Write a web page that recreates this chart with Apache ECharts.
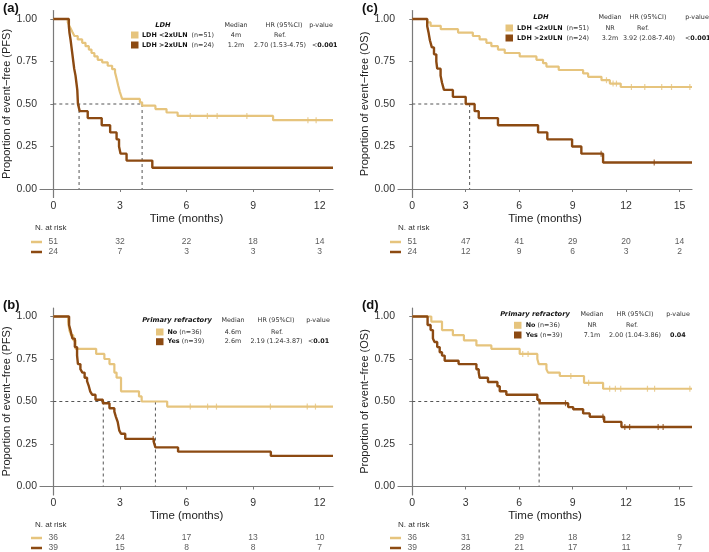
<!DOCTYPE html>
<html><head><meta charset="utf-8">
<script src="https://cdn.jsdelivr.net/npm/echarts@6/dist/echarts.min.js"></script>
<style>html,body{margin:0;padding:0;background:#fff}#c{width:709px;height:552px}</style>
</head><body><div id="c"></div>
<script>
// ---------- DATA ----------
// Panel (a) PFS by LDH
const aLowT  = [0, 0.65, 0.72, 0.8, 0.87, 0.95, 1.1, 1.3, 1.45, 1.6, 1.72, 1.85, 2.0, 2.2, 2.45, 2.65, 2.78, 2.85, 2.92, 3.0, 3.05, 3.1, 3.9, 4.0, 4.6, 5.1, 5.6, 9.9];
const aLowS  = [1, 0.98, 0.96, 0.94, 0.92, 0.90, 0.88, 0.86, 0.84, 0.82, 0.80, 0.78, 0.76, 0.745, 0.725, 0.705, 0.686, 0.65, 0.61, 0.57, 0.55, 0.53, 0.51, 0.49, 0.47, 0.45, 0.43, 0.405];
const aHighT = [0, 0.70, 0.73, 0.78, 0.82, 0.86, 0.90, 0.94, 1.0, 1.04, 1.08, 1.11, 1.19, 1.55, 2.18, 2.56, 2.85, 2.96, 3.03, 3.3, 4.46];
const aHighS = [1, 0.958, 0.917, 0.875, 0.833, 0.792, 0.75, 0.708, 0.667, 0.625, 0.583, 0.5, 0.458, 0.417, 0.375, 0.333, 0.292, 0.25, 0.208, 0.167, 0.125];
const aLowCens = [6.17, 6.94, 7.38, 8.72, 11.47, 11.84];
const aHighCens = [];
const aMedians = [1.16, 4.0];
const aRiskTimes = [0, 3, 6, 9, 12];
const aRiskLow  = [51, 32, 22, 18, 14];
const aRiskHigh = [24, 7, 3, 3, 3];

// Panel (b) PFS by primary refractory
const bLowT  = [0, 0.67, 0.72, 0.8, 0.9, 1.0, 1.93, 2.3, 2.53, 2.75, 2.85, 3.05, 3.86, 3.98, 5.13];
const bLowS  = [1, 0.97, 0.92, 0.89, 0.86, 0.81, 0.78, 0.75, 0.72, 0.67, 0.64, 0.56, 0.53, 0.50, 0.47];
const bHighT = [0, 0.71, 0.77, 0.86, 0.97, 1.07, 1.11, 1.22, 1.31, 1.41, 1.52, 1.6, 1.66, 1.75, 1.9, 2.23, 2.53, 2.75, 2.82, 2.9, 2.97, 3.05, 3.24, 4.53, 4.6, 5.62, 9.8];
const bHighS = [1, 0.95, 0.92, 0.87, 0.82, 0.77, 0.72, 0.69, 0.67, 0.64, 0.62, 0.59, 0.56, 0.54, 0.51, 0.49, 0.46, 0.44, 0.41, 0.38, 0.33, 0.31, 0.28, 0.26, 0.23, 0.205, 0.18];
const bLowCens = [6.17, 6.95, 7.35, 9.78, 11.44, 11.81];
const bHighCens = [4.5];
const bMedians = [2.25, 4.6];
const bRiskTimes = [0, 3, 6, 9, 12];
const bRiskLow  = [36, 24, 17, 13, 10];
const bRiskHigh = [39, 15, 8, 8, 7];

// Panel (c) OS by LDH
const cLowT  = [0, 0.84, 1.03, 1.6, 2.57, 3.4, 3.78, 4.16, 4.44, 4.81, 5.19, 6.03, 6.97, 7.34, 7.53, 8.22, 9.59, 9.87, 10.62, 11.09, 11.7];
const cLowS  = [1, 0.98, 0.96, 0.94, 0.92, 0.90, 0.88, 0.86, 0.84, 0.82, 0.80, 0.78, 0.76, 0.74, 0.72, 0.70, 0.68, 0.66, 0.64, 0.62, 0.60];
const cHighT = [0, 0.84, 0.92, 0.99, 1.1, 1.22, 1.35, 1.4, 1.59, 1.67, 1.78, 2.28, 3.0, 3.5, 3.73, 4.81, 7.06, 7.58, 8.97, 9.49, 10.71];
const cHighS = [1, 0.958, 0.917, 0.875, 0.833, 0.792, 0.75, 0.708, 0.667, 0.625, 0.583, 0.542, 0.5, 0.458, 0.417, 0.375, 0.333, 0.292, 0.25, 0.208, 0.156];
const cLowCens = [10.9, 11.27, 11.46, 12.3, 13.05, 14.0, 14.55, 15.58];
const cHighCens = [10.6, 13.58];
const cMedians = [3.22];
const cRiskTimes = [0, 3, 6, 9, 12, 15];
const cRiskLow  = [51, 47, 41, 29, 20, 14];
const cRiskHigh = [24, 12, 9, 6, 3, 2];

// Panel (d) OS by primary refractory
const dLowT  = [0, 1.07, 1.67, 2.28, 2.9, 3.6, 4.44, 6.03, 7.02, 7.1, 7.53, 7.62, 8.28, 9.64, 10.71];
const dLowS  = [1, 0.97, 0.92, 0.89, 0.86, 0.83, 0.81, 0.78, 0.75, 0.72, 0.69, 0.67, 0.65, 0.61, 0.575];
const dHighT = [0, 0.86, 1.03, 1.16, 1.25, 1.4, 1.54, 1.67, 1.82, 2.6, 3.6, 3.73, 3.78, 4.25, 4.78, 4.91, 5.28, 7.02, 7.15, 8.75, 9.03, 9.59, 9.96, 10.77, 11.74];
const dHighS = [1, 0.95, 0.92, 0.87, 0.85, 0.82, 0.79, 0.77, 0.74, 0.72, 0.69, 0.67, 0.64, 0.615, 0.59, 0.56, 0.54, 0.51, 0.49, 0.467, 0.454, 0.43, 0.41, 0.38, 0.35];
const dLowCens = [6.2, 6.5, 8.9, 9.9, 11.08, 11.4, 11.7, 13.2, 13.6, 15.58];
const dHighCens = [8.6, 10.7, 11.93, 12.2, 13.8, 14.08];
const dMedians = [7.12];
const dRiskTimes = [0, 3, 6, 9, 12, 15];
const dRiskLow  = [36, 31, 29, 18, 12, 9];
const dRiskHigh = [39, 28, 21, 17, 11, 7];

const yTicks = [0, 0.25, 0.5, 0.75, 1];

// ---------- STYLE / LAYOUT ----------
const LIGHT = '#E6C47D', DARK = '#8C4A12';
const AX = '#7a7a7a', TXT = '#333333';
const SANS = 'Liberation Sans, Arial, sans-serif';
const LEG = 'DejaVu Sans, Verdana, sans-serif';

const panels = [
  {low:[aLowT,aLowS], high:[aHighT,aHighS], lc:aLowCens, hc:aHighCens, med:aMedians, rt:aRiskTimes, rl:aRiskLow, rh:aRiskHigh,
   left:40, top:10.5, width:293, xmin:-0.6, xmax:12.6, ticks:[0,3,6,9,12], ylab:'Proportion of event\u2212free (PFS)', riskTop:237},
  {low:[bLowT,bLowS], high:[bHighT,bHighS], lc:bLowCens, hc:bHighCens, med:bMedians, rt:bRiskTimes, rl:bRiskLow, rh:bRiskHigh,
   left:40, top:308, width:293, xmin:-0.6, xmax:12.6, ticks:[0,3,6,9,12], ylab:'Proportion of event\u2212free (PFS)', riskTop:533},
  {low:[cLowT,cLowS], high:[cHighT,cHighS], lc:cLowCens, hc:cHighCens, med:cMedians, rt:cRiskTimes, rl:cRiskLow, rh:cRiskHigh,
   left:398, top:10.5, width:294, xmin:-0.8, xmax:15.7, ticks:[0,3,6,9,12,15], ylab:'Proportion of event\u2212free (OS)', riskTop:237},
  {low:[dLowT,dLowS], high:[dHighT,dHighS], lc:dLowCens, hc:dHighCens, med:dMedians, rt:dRiskTimes, rl:dRiskLow, rh:dRiskHigh,
   left:398, top:308, width:294, xmin:-0.8, xmax:15.7, ticks:[0,3,6,9,12,15], ylab:'Proportion of event\u2212free (OS)', riskTop:533}
];

function km(T,S,xmax){ const d=T.map((t,i)=>[t,S[i]]); d.push([xmax,S[S.length-1]]); return d; }
function sAt(T,S,t){ let s=S[0]; for(let i=0;i<T.length;i++){ if(T[i]<=t) s=S[i]; } return s; }

const grid=[], xAxis=[], yAxis=[], series=[];
panels.forEach((p,i)=>{
  const g=i*2, r=i*2+1;
  grid.push({left:p.left, top:p.top, width:p.width, height:187});
  grid.push({left:p.left, top:p.riskTop, width:p.width, height:20});
  xAxis.push({gridIndex:g, type:'value', min:p.xmin, max:p.xmax,
    axisLine:{show:true, lineStyle:{color:AX, width:1.2}},
    axisTick:{show:true, length:3, customValues:p.ticks, lineStyle:{color:AX}},
    axisLabel:{customValues:p.ticks, color:TXT, fontSize:10.5, fontFamily:SANS, margin:3},
    splitLine:{show:false},
    name:'Time (months)', nameLocation:'middle', nameGap:12,
    nameTextStyle:{color:'#222', fontSize:11.5, fontFamily:SANS}});
  xAxis.push({gridIndex:r, type:'value', min:p.xmin, max:p.xmax, show:false});
  yAxis.push({gridIndex:g, type:'value', min:-0.05, max:1.05,
    axisLine:{show:true, lineStyle:{color:AX, width:1.2}},
    axisTick:{show:true, length:3, customValues:yTicks, lineStyle:{color:AX}},
    axisLabel:{customValues:yTicks, color:TXT, fontSize:10.5, fontFamily:SANS, margin:3, formatter:v=>v.toFixed(2)},
    splitLine:{show:false},
    name:p.ylab, nameLocation:'middle', nameGap:22.5, nameRotate:90,
    nameTextStyle:{color:'#222', fontSize:11, fontFamily:SANS}});
  yAxis.push({gridIndex:r, type:'value', min:0, max:1, show:false});

  // median dashed lines
  const mmax=Math.max(...p.med);
  series.push({type:'line', xAxisIndex:g, yAxisIndex:g, symbol:'none', silent:true, z:2,
    lineStyle:{color:'#555', width:1, type:[3,3]}, data:[[0,0.5],[mmax,0.5]]});
  p.med.forEach(m=>series.push({type:'line', xAxisIndex:g, yAxisIndex:g, symbol:'none', silent:true, z:2,
    lineStyle:{color:'#555', width:1, type:[3,3]}, data:[[m,0.5],[m,0]]}));

  // KM curves
  [[p.low,LIGHT,p.lc,3,2.2],[p.high,DARK,p.hc,4,2.4]].forEach(([c,col,cens,z,w])=>{
    series.push({type:'line', xAxisIndex:g, yAxisIndex:g, step:'end', symbol:'none', z:z,
      lineStyle:{color:col, width:w}, data:km(c[0],c[1],p.xmax)});
    series.push({type:'scatter', xAxisIndex:g, yAxisIndex:g, symbol:'rect', symbolSize:[1.2,6], z:z,
      itemStyle:{color:col}, data:cens.map(t=>[t,sAt(c[0],c[1],t)])});
  });

  // risk table
  [[p.rl,0.75],[p.rh,0.25]].forEach(([vals,yy])=>{
    series.push({type:'scatter', xAxisIndex:r, yAxisIndex:r, symbolSize:1, itemStyle:{color:'rgba(0,0,0,0)'},
      label:{show:true, position:'inside', color:TXT, fontSize:8.5, fontFamily:SANS, formatter:q=>q.value[2]},
      data:p.rt.map((t,k)=>[t,yy,vals[k]])});
  });
});

// ---------- TEXT / LEGENDS ----------
const FS=6.4, FH=6.7;
function T(x,y,text,align,extra){
  return Object.assign({type:'text', x:x, y:y, z:100, silent:true,
    style:Object.assign({text:text, fill:TXT, fontSize:FS, fontFamily:LEG, align:align||'left', verticalAlign:'middle',
      textAlign:align||'left', textVerticalAlign:'middle'}, extra||{})});
}
const rich={b:{fontWeight:'bold', fontSize:FS, fontFamily:LEG, fill:'#111', color:'#111'}, n:{fontSize:FS, fontFamily:LEG, fill:TXT, color:TXT}};
function R(x,y,text,align){ return T(x,y,text,align,{rich:rich}); }
function sw(x,y,col){ return {type:'rect', z:100, silent:true, shape:{x:x, y:y-3.5, width:7.5, height:7}, style:{fill:col}}; }
function ln(x1,x2,y,col){ return {type:'line', z:100, silent:true, shape:{x1:x1,y1:y,x2:x2,y2:y}, style:{stroke:col, lineWidth:2.5}}; }
function hdr(x,y,text){ return T(x,y,text,'center',{fontWeight:'bold', fontStyle:'italic', fontSize:FH, fill:'#111'}); }

const gfx=[];
// panel letters
[['(a)',3,8],['(c)',362,8],['(b)',3,305],['(d)',362,305]].forEach(([t,x,y])=>
  gfx.push(T(x,y,t,'left',{fontSize:13, fontWeight:'bold', fontFamily:SANS, fill:'#111'})));

// legend (a)
gfx.push(hdr(163,25,'LDH'), T(236,25,'Median','center'), T(284,25,'HR (95%CI)','center'), T(321,25,'p-value','center'));
gfx.push(sw(131,35,LIGHT), R(142,35,'{b|LDH <2xULN}  {n|(n=51)}'), T(236,35,'4m','center'), T(280,35,'Ref.','center'));
gfx.push(sw(131,45,DARK), R(142,45,'{b|LDH >2xULN}  {n|(n=24)}'), T(236,45,'1.2m','center'), T(280,45,'2.70 (1.53-4.75)','center'), R(312,45,'{n|<}{b|0.001}'));
// legend (c)
gfx.push(hdr(541,17,'LDH'), T(610,17,'Median','center'), T(648,17,'HR (95%CI)','center'), T(697,17,'p-value','center'));
gfx.push(sw(505.5,28,LIGHT), R(517,28,'{b|LDH <2xULN}  {n|(n=51)}'), T(610,28,'NR','center'), T(643,28,'Ref.','center'));
gfx.push(sw(505.5,38,DARK), R(517,38,'{b|LDH >2xULN}  {n|(n=24)}'), T(610,38,'3.2m','center'), T(649,38,'3.92 (2.08-7.40)','center'), R(685,38,'{n|<}{b|0.001}'));
// legend (b)
gfx.push(hdr(177,320.5,'Primary refractory'), T(233,320.5,'Median','center'), T(276,320.5,'HR (95%CI)','center'), T(318,320.5,'p-value','center'));
gfx.push(sw(156,332,LIGHT), R(167.5,332,'{b|No} {n|(n=36)}'), T(233,332,'4.6m','center'), T(277,332,'Ref.','center'));
gfx.push(sw(156,341.7,DARK), R(167.5,341.7,'{b|Yes} {n|(n=39)}'), T(233,341.7,'2.6m','center'), T(276.5,341.7,'2.19 (1.24-3.87)','center'), R(308,341.7,'{n|<}{b|0.01}'));
// legend (d)
gfx.push(hdr(535,314,'Primary refractory'), T(592,314,'Median','center'), T(635,314,'HR (95%CI)','center'), T(678,314,'p-value','center'));
gfx.push(sw(514,325.3,LIGHT), R(525.7,325.3,'{b|No} {n|(n=36)}'), T(592,325.3,'NR','center'), T(632,325.3,'Ref.','center'));
gfx.push(sw(514,335,DARK), R(525.7,335,'{b|Yes} {n|(n=39)}'), T(592,335,'7.1m','center'), T(635,335,'2.00 (1.04-3.86)','center'), R(670,335,'{b|0.04}'));

// risk table labels and swatches
[[35,31,42,228,242,252],[398,390,401,228,242,252],[35,31,42,525,538,548],[398,390,401,525,538,548]].forEach(([tx,l1,l2,ty,r1,r2])=>{
  gfx.push(T(tx,ty,'N. at risk','left',{fontSize:8, fontFamily:SANS}));
  gfx.push(ln(l1,l2,r1,LIGHT), ln(l1,l2,r2,DARK));
});

const chart=echarts.init(document.getElementById('c'), null, {renderer:'canvas'});
chart.setOption({animation:false, backgroundColor:'#fff', grid, xAxis, yAxis, series, graphic:gfx});
</script></body></html>
